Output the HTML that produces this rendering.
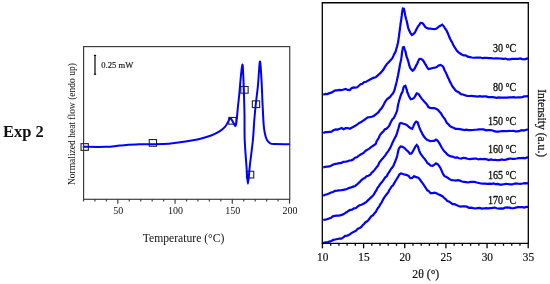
<!DOCTYPE html>
<html><head><meta charset="utf-8"><style>
html,body{margin:0;padding:0;background:#fff;}
body{width:550px;height:284px;position:relative;overflow:hidden;font-family:"Liberation Serif",serif;}
</style></head><body>
<svg width="550" height="284" viewBox="0 0 550 284" style="position:absolute;left:0;top:0">
<rect x="81.05" y="143.65" width="7.3" height="6.7" fill="none" stroke="#222" stroke-width="1.1"/>
<rect x="149.25" y="139.55" width="7.3" height="6.7" fill="none" stroke="#222" stroke-width="1.1"/>
<rect x="228.75" y="117.45" width="7.3" height="6.7" fill="none" stroke="#222" stroke-width="1.1"/>
<rect x="240.85" y="86.50" width="7.3" height="6.7" fill="none" stroke="#222" stroke-width="1.1"/>
<rect x="246.45" y="171.25" width="7.3" height="6.7" fill="none" stroke="#222" stroke-width="1.1"/>
<rect x="252.35" y="100.85" width="7.3" height="6.7" fill="none" stroke="#222" stroke-width="1.1"/>
<path d="M83.50,146.80 C87.25,146.80 99.92,147.00 106.00,146.80 C112.08,146.60 114.50,146.02 120.00,145.60 C125.50,145.18 131.83,144.55 139.00,144.30 C146.17,144.05 156.17,144.45 163.00,144.10 C169.83,143.75 175.50,142.75 180.00,142.20 C184.50,141.65 186.57,141.38 190.00,140.80 C193.43,140.22 197.08,139.58 200.60,138.70 C204.12,137.82 207.88,136.77 211.10,135.50 C214.32,134.23 217.55,132.57 219.90,131.10 C222.25,129.63 223.72,128.47 225.20,126.70 C226.68,124.93 227.92,121.92 228.80,120.50 C229.68,119.08 229.75,117.87 230.50,118.20 C231.25,118.53 232.50,121.20 233.30,122.50 C234.10,123.80 234.77,126.08 235.30,126.00 C235.83,125.92 236.08,125.00 236.50,122.00 C236.92,119.00 237.30,113.00 237.80,108.00 C238.30,103.00 238.98,97.33 239.50,92.00 C240.02,86.67 240.42,80.57 240.90,76.00 C241.38,71.43 242.02,64.93 242.40,64.60 C242.78,64.27 242.95,69.43 243.20,74.00 C243.45,78.57 243.68,85.17 243.90,92.00 C244.12,98.83 244.37,107.00 244.50,115.00 C244.63,123.00 244.38,131.67 244.70,140.00 C245.02,148.33 245.87,157.70 246.40,165.00 C246.93,172.30 247.32,183.80 247.90,183.80 C248.48,183.80 249.07,172.30 249.90,165.00 C250.73,157.70 252.17,147.50 252.90,140.00 C253.63,132.50 253.83,125.83 254.30,120.00 C254.77,114.17 255.08,110.83 255.70,105.00 C256.32,99.17 257.30,92.25 258.00,85.00 C258.70,77.75 259.32,62.33 259.90,61.50 C260.48,60.67 261.05,72.75 261.50,80.00 C261.95,87.25 262.23,97.50 262.60,105.00 C262.97,112.50 263.33,120.33 263.70,125.00 C264.07,129.67 264.30,130.58 264.80,133.00 C265.30,135.42 265.80,137.78 266.70,139.50 C267.60,141.22 268.82,142.53 270.20,143.30 C271.58,144.07 271.83,143.95 275.00,144.10 C278.17,144.25 286.83,144.18 289.20,144.20" fill="none" stroke="#0000ff" stroke-width="2.0" stroke-linejoin="round" stroke-linecap="round"/>
<path d="M323.20,94.70 L325.36,93.93 L327.39,94.08 L329.40,93.14 L331.39,92.61 L333.25,91.51 L335.29,90.26 L337.34,90.35 L339.52,89.92 L341.58,90.20 L343.62,89.45 L345.70,89.02 L347.83,89.92 L349.78,90.12 L351.56,88.27 L353.41,87.41 L355.44,87.71 L357.19,87.23 L358.90,85.73 L360.60,84.24 L362.42,83.69 L364.27,81.98 L366.20,81.79 L368.11,80.57 L370.03,79.48 L371.96,78.46 L373.86,77.67 L375.69,77.30 L377.50,75.62 L378.90,74.47 L380.31,73.17 L381.80,71.43 L383.20,69.85 L384.52,67.58 L385.79,65.58 L386.97,63.91 L388.16,62.82 L389.59,61.18 L391.19,59.51 L392.37,58.12 L393.29,56.11 L394.16,54.05 L395.10,52.65 L395.92,50.75 L396.50,48.31 L397.03,46.47 L397.51,44.48 L397.98,42.66 L398.36,40.58 L398.69,37.91 L398.97,36.48 L399.25,33.63 L399.53,31.64 L399.83,29.85 L400.11,27.19 L400.40,25.23 L400.68,22.77 L401.00,21.12 L401.28,19.36 L401.54,17.10 L401.82,15.14 L402.11,12.41 L402.41,10.68 L402.85,8.53 L403.87,8.72 L404.37,10.62 L404.82,13.27 L405.22,15.52 L405.67,17.22 L406.17,19.31 L406.68,20.75 L407.18,23.37 L407.69,25.50 L408.25,27.98 L408.91,29.98 L409.62,31.34 L410.52,33.25 L411.95,34.96 L413.88,33.58 L415.10,32.15 L416.08,30.08 L417.15,28.00 L418.21,26.04 L419.23,25.00 L420.53,22.81 L422.33,23.00 L423.80,24.66 L425.04,26.82 L426.34,27.76 L428.33,28.60 L430.43,28.55 L432.52,28.99 L434.61,29.11 L436.59,28.60 L438.51,26.92 L440.35,25.81 L442.14,24.61 L443.88,26.32 L444.97,28.42 L445.90,29.40 L446.87,31.18 L447.71,33.06 L448.58,35.05 L449.46,37.28 L450.32,39.30 L451.23,40.90 L452.13,42.37 L453.16,44.69 L454.27,46.58 L455.47,48.51 L456.75,50.63 L458.28,52.12 L459.91,53.29 L461.77,54.52 L463.78,55.47 L465.69,55.40 L467.70,56.61 L469.84,57.09 L471.88,57.53 L474.01,57.76 L476.16,57.56 L478.35,57.68 L480.51,57.53 L482.72,58.19 L484.74,57.85 L486.83,57.85 L489.00,58.09 L491.12,58.20 L493.33,58.51 L495.35,58.34 L497.40,58.30 L499.46,58.50 L501.52,58.54 L503.55,58.86 L505.59,58.59 L507.69,59.44 L509.82,59.39 L511.93,58.84 L513.98,58.76 L516.17,58.79 L518.18,58.78 L520.22,58.45 L522.38,59.05 L524.62,59.27 L526.69,58.64 L528.00,58.40" fill="none" stroke="#0000ff" stroke-width="2.2" stroke-linejoin="miter" stroke-miterlimit="3" stroke-linecap="butt"/>
<path d="M323.20,133.00 L325.37,132.13 L327.37,132.09 L329.57,131.83 L331.61,131.61 L333.52,130.23 L335.62,129.42 L337.65,129.64 L339.68,128.83 L341.78,128.04 L343.61,129.15 L345.70,128.14 L347.66,128.06 L349.70,128.79 L351.66,127.76 L353.58,126.73 L355.63,125.56 L357.42,124.45 L359.10,122.94 L360.77,122.35 L362.45,121.06 L364.16,120.06 L365.96,118.54 L367.84,117.36 L369.78,117.12 L371.78,116.79 L373.73,115.93 L375.45,114.70 L377.09,113.43 L378.69,111.92 L380.23,109.68 L381.56,108.24 L382.76,106.47 L383.94,104.17 L384.96,102.11 L385.95,100.54 L387.22,99.03 L388.71,97.98 L390.15,96.93 L391.52,94.93 L392.82,93.63 L393.84,91.88 L394.53,90.00 L395.18,87.43 L395.80,85.07 L396.34,83.03 L396.82,80.98 L397.23,78.91 L397.62,77.36 L398.03,75.62 L398.43,73.56 L398.84,70.96 L399.22,69.06 L399.63,67.09 L400.01,64.39 L400.40,62.76 L400.80,61.07 L401.19,58.97 L401.53,56.67 L401.84,54.14 L402.15,51.46 L402.47,49.91 L402.90,47.45 L403.98,47.12 L404.75,49.50 L405.31,51.05 L405.80,52.85 L406.35,55.66 L406.86,57.53 L407.50,59.01 L408.11,60.93 L408.69,62.90 L409.34,65.73 L410.11,67.82 L411.02,69.12 L412.58,70.72 L414.10,69.46 L415.27,67.37 L416.41,65.12 L417.32,63.42 L418.26,61.09 L419.33,58.99 L420.87,58.82 L422.50,59.91 L423.80,61.41 L424.94,63.59 L426.02,65.17 L427.12,67.42 L428.46,68.97 L430.56,68.59 L432.60,67.98 L434.82,67.67 L436.76,66.97 L438.24,65.71 L440.42,64.94 L442.30,65.83 L443.49,67.28 L444.43,69.98 L445.28,71.46 L446.21,73.36 L447.17,75.52 L448.07,77.83 L448.96,79.30 L449.90,81.68 L450.89,83.35 L451.85,85.21 L452.91,87.10 L454.14,88.43 L455.49,90.39 L457.17,91.50 L459.07,92.42 L460.85,94.13 L462.93,94.48 L465.02,95.20 L467.01,95.85 L469.20,95.98 L471.26,95.84 L473.40,96.08 L475.59,96.28 L477.63,96.69 L479.79,96.15 L482.04,96.56 L484.07,96.41 L486.13,96.45 L488.19,97.07 L490.24,97.02 L492.24,97.12 L494.40,97.46 L496.49,97.81 L498.59,97.48 L500.77,97.63 L502.84,97.57 L505.09,97.55 L507.19,97.70 L509.41,97.40 L511.61,97.32 L513.63,97.15 L515.70,97.52 L517.78,97.26 L519.82,97.29 L522.03,97.25 L524.06,96.40 L526.23,96.36 L528.00,96.20" fill="none" stroke="#0000ff" stroke-width="2.2" stroke-linejoin="miter" stroke-miterlimit="3" stroke-linecap="butt"/>
<path d="M323.20,167.30 L325.32,166.90 L327.35,166.53 L329.54,166.44 L331.50,165.55 L333.30,164.55 L335.32,163.84 L337.25,163.66 L339.15,163.15 L341.19,163.07 L343.22,161.87 L345.25,161.73 L347.33,161.43 L349.29,160.49 L351.20,160.32 L353.15,159.51 L354.96,157.73 L356.82,157.34 L358.63,155.84 L360.30,154.69 L362.00,153.84 L363.80,152.67 L365.71,150.72 L367.48,149.65 L369.25,148.60 L371.09,147.23 L372.90,145.92 L374.61,144.75 L375.94,143.71 L376.59,141.14 L377.70,139.60 L378.82,137.70 L379.77,135.44 L380.79,133.85 L382.03,132.64 L383.48,131.23 L384.96,129.28 L386.45,128.76 L387.94,127.31 L389.21,125.91 L390.28,123.23 L391.30,121.33 L392.42,119.29 L393.61,118.26 L394.79,116.07 L395.80,113.93 L396.50,112.17 L396.99,110.79 L397.42,108.77 L397.84,106.07 L398.28,103.76 L398.68,102.52 L399.19,100.19 L399.82,98.38 L400.67,95.70 L401.49,93.61 L402.29,92.29 L402.90,90.19 L403.51,87.52 L404.12,86.43 L405.40,85.80 L406.08,87.91 L406.65,89.38 L407.20,92.09 L407.99,93.53 L408.86,96.10 L409.80,97.63 L410.81,99.22 L412.69,98.82 L414.15,97.78 L415.60,95.42 L416.69,93.31 L418.38,93.94 L419.46,95.47 L420.50,96.97 L421.74,98.66 L423.02,100.14 L424.39,101.74 L425.86,103.36 L427.20,104.90 L428.36,107.06 L430.14,107.84 L432.23,108.15 L434.35,108.00 L436.38,108.94 L438.02,109.92 L439.52,111.65 L440.95,113.18 L442.26,115.62 L443.54,117.37 L444.65,118.68 L445.76,120.71 L446.89,123.06 L448.24,124.04 L449.76,126.00 L451.56,126.98 L453.42,127.83 L455.53,128.86 L457.69,128.90 L459.88,129.17 L462.13,129.55 L464.40,130.09 L466.49,129.61 L468.56,130.04 L470.77,130.05 L472.83,130.00 L474.95,129.76 L477.10,129.66 L479.27,129.35 L481.43,129.42 L483.63,129.47 L485.88,130.36 L487.92,130.21 L489.99,130.19 L492.08,130.23 L494.15,131.19 L496.21,131.62 L498.23,131.61 L500.44,131.23 L502.49,131.09 L504.68,131.08 L506.88,131.22 L509.05,130.87 L511.17,131.00 L513.21,130.75 L515.38,131.34 L517.38,131.43 L519.66,130.86 L521.95,130.17 L523.98,130.56 L526.14,129.71 L528.00,129.50" fill="none" stroke="#0000ff" stroke-width="2.2" stroke-linejoin="miter" stroke-miterlimit="3" stroke-linecap="butt"/>
<path d="M323.20,195.80 L325.12,194.75 L327.05,194.18 L329.02,193.54 L331.01,192.53 L333.02,192.06 L335.02,190.91 L337.11,190.68 L339.16,190.38 L341.21,190.24 L343.39,189.82 L345.49,189.43 L347.47,188.84 L349.42,187.86 L351.32,187.35 L353.27,186.62 L355.14,186.00 L356.81,184.74 L358.32,183.25 L359.85,181.85 L361.49,180.06 L363.20,178.61 L364.79,178.03 L366.56,176.27 L368.50,175.77 L370.30,174.59 L371.79,172.54 L373.06,171.59 L374.40,170.14 L375.71,168.37 L377.02,166.81 L378.26,165.13 L379.27,162.64 L380.47,161.09 L381.77,159.39 L383.07,158.05 L384.39,156.39 L385.60,154.79 L386.80,152.90 L388.08,151.42 L389.33,149.45 L390.41,147.62 L391.37,145.32 L392.37,142.96 L393.33,140.96 L394.19,139.37 L395.08,137.29 L395.94,136.20 L396.64,134.21 L397.26,132.28 L397.90,130.15 L398.50,128.25 L399.09,126.09 L399.80,123.57 L401.20,122.87 L403.30,123.72 L405.40,124.20 L407.28,125.30 L408.79,126.92 L410.36,127.97 L412.19,128.81 L413.24,126.62 L414.13,124.42 L415.13,122.75 L416.23,121.55 L417.63,122.32 L418.45,124.82 L419.22,127.19 L419.85,128.70 L420.64,130.50 L421.58,132.32 L422.63,134.36 L423.80,136.29 L425.18,137.94 L426.71,139.55 L428.30,140.28 L430.15,141.06 L432.27,140.97 L434.22,140.84 L436.00,139.58 L437.52,140.61 L438.50,141.97 L439.63,143.69 L440.74,145.68 L441.97,148.04 L443.24,149.93 L444.53,151.57 L445.84,152.76 L447.27,154.36 L448.91,155.58 L450.77,156.46 L452.70,156.61 L454.72,157.65 L456.99,157.32 L459.11,158.21 L461.28,158.58 L463.29,157.78 L465.49,158.14 L467.56,158.74 L469.71,159.17 L471.91,158.82 L474.12,158.60 L476.31,158.55 L478.44,159.42 L480.48,158.94 L482.50,159.26 L484.55,158.95 L486.76,159.36 L488.91,160.03 L491.04,159.38 L493.19,159.99 L495.41,159.85 L497.48,160.22 L499.67,160.10 L501.84,159.50 L504.00,159.97 L506.10,159.58 L508.33,158.85 L510.35,158.51 L512.41,158.84 L514.47,158.78 L516.51,158.48 L518.78,158.08 L520.94,158.06 L522.94,157.91 L524.96,158.33 L527.00,157.41 L528.00,157.80" fill="none" stroke="#0000ff" stroke-width="2.2" stroke-linejoin="miter" stroke-miterlimit="3" stroke-linecap="butt"/>
<path d="M323.20,220.00 L325.20,219.59 L327.04,219.30 L329.06,218.48 L331.02,217.82 L332.83,216.32 L334.81,215.79 L336.70,215.61 L338.72,215.57 L340.96,215.21 L342.95,214.39 L344.73,213.40 L346.50,212.28 L348.33,210.96 L350.17,209.92 L351.99,209.77 L353.97,208.40 L355.98,207.97 L357.79,206.39 L359.57,205.30 L361.54,204.79 L363.50,203.85 L365.12,202.75 L366.51,201.80 L367.90,200.35 L369.52,198.90 L371.08,197.39 L372.55,196.08 L373.90,194.34 L375.13,192.11 L376.33,190.34 L377.52,187.79 L378.63,186.63 L379.80,184.63 L381.10,183.07 L382.48,181.40 L383.87,179.44 L385.27,177.39 L386.59,176.43 L387.84,173.93 L388.94,172.40 L390.03,170.58 L391.13,168.79 L392.23,167.49 L393.28,166.12 L394.22,163.67 L395.06,162.06 L395.90,159.66 L396.57,157.92 L397.18,155.82 L397.72,153.38 L398.22,151.09 L398.68,149.16 L399.31,147.92 L400.63,146.34 L402.50,146.72 L404.60,148.06 L406.07,149.72 L407.46,150.88 L408.75,152.15 L409.86,153.82 L411.49,153.44 L412.55,151.87 L413.57,149.93 L414.53,148.18 L415.54,146.32 L416.69,145.00 L417.96,146.45 L418.60,148.64 L419.13,150.30 L419.83,152.29 L420.88,154.17 L421.99,155.72 L423.25,157.40 L424.57,158.76 L425.90,160.51 L427.35,163.05 L428.84,163.98 L430.44,165.50 L432.56,165.80 L434.15,164.84 L436.00,163.22 L437.84,164.24 L439.09,165.85 L440.26,167.76 L441.31,169.85 L442.30,172.41 L443.34,174.38 L444.56,176.21 L445.97,176.76 L447.60,177.68 L449.53,179.15 L451.55,180.15 L453.64,180.23 L455.75,180.57 L457.79,180.18 L459.97,180.66 L461.99,181.53 L464.09,181.84 L466.13,182.12 L468.19,182.48 L470.34,181.95 L472.57,181.79 L474.61,181.91 L476.69,182.48 L478.79,182.95 L480.91,183.49 L483.04,183.53 L485.06,183.55 L487.25,183.81 L489.49,183.66 L491.50,183.82 L493.54,183.40 L495.59,184.18 L497.64,183.89 L499.70,184.63 L501.75,184.60 L503.79,184.24 L505.80,183.95 L507.88,183.98 L510.10,184.36 L512.12,184.47 L514.18,183.79 L516.23,183.44 L518.25,183.75 L520.48,183.79 L522.56,183.48 L524.67,183.09 L526.81,183.29 L528.00,183.20" fill="none" stroke="#0000ff" stroke-width="2.2" stroke-linejoin="miter" stroke-miterlimit="3" stroke-linecap="butt"/>
<path d="M323.20,243.10 L325.19,242.45 L327.21,242.47 L329.28,241.64 L331.37,241.07 L333.38,239.91 L335.41,239.45 L337.46,238.96 L339.40,238.65 L341.41,238.61 L343.34,237.40 L345.20,235.84 L347.11,235.63 L348.91,235.00 L350.75,233.69 L352.62,232.35 L354.42,231.52 L356.10,230.70 L357.79,228.77 L359.80,227.93 L361.30,226.88 L362.61,225.33 L364.00,223.95 L365.53,222.18 L367.20,221.34 L368.70,219.77 L370.04,217.93 L371.46,216.04 L372.99,215.32 L374.47,213.31 L375.74,212.08 L376.88,209.79 L378.00,207.83 L379.10,206.66 L380.22,204.44 L381.22,203.17 L382.33,200.90 L383.52,198.62 L384.70,196.80 L385.92,195.20 L387.08,193.79 L388.21,192.47 L389.32,189.97 L390.44,188.33 L391.64,186.44 L392.97,185.48 L394.24,183.15 L395.53,181.03 L396.59,179.23 L397.60,177.69 L398.46,176.33 L399.28,174.58 L400.96,173.36 L402.98,173.94 L405.02,174.67 L406.87,175.07 L408.64,175.89 L410.22,178.03 L412.17,177.94 L414.06,176.18 L416.13,177.19 L418.27,177.65 L419.74,179.21 L420.95,180.99 L422.18,182.62 L423.41,184.26 L424.59,186.25 L425.84,188.02 L427.26,190.30 L428.80,191.10 L430.54,193.13 L432.66,193.05 L434.71,192.72 L436.89,193.56 L438.87,194.62 L440.75,195.39 L442.46,196.13 L444.00,197.76 L445.61,199.10 L447.30,200.94 L448.96,201.51 L450.65,202.65 L452.47,204.20 L454.50,204.20 L456.42,204.98 L458.52,206.05 L460.58,206.65 L462.57,206.29 L464.73,206.42 L466.77,206.66 L468.97,207.83 L471.16,207.56 L473.32,208.11 L475.36,208.50 L477.49,208.06 L479.70,207.89 L481.73,208.61 L483.82,208.47 L485.98,208.05 L488.19,208.42 L490.47,208.08 L492.51,207.92 L494.66,207.56 L496.78,208.25 L498.82,208.59 L500.97,208.34 L503.21,208.56 L505.22,207.56 L507.27,207.44 L509.33,207.62 L511.38,208.14 L513.41,208.24 L515.68,207.58 L517.87,207.16 L519.96,207.18 L522.14,207.18 L524.33,207.60 L526.38,206.85 L528.00,207.00" fill="none" stroke="#0000ff" stroke-width="2.2" stroke-linejoin="miter" stroke-miterlimit="3" stroke-linecap="butt"/>
<g fill="none" stroke="#383838" stroke-width="1.15">
<rect x="83.6" y="46.6" width="206.15" height="152.70000000000002"/>
<line x1="83.50" y1="199.3" x2="83.50" y2="201.50"/>
<line x1="94.94" y1="199.3" x2="94.94" y2="201.50"/>
<line x1="106.39" y1="199.3" x2="106.39" y2="201.50"/>
<line x1="117.83" y1="199.3" x2="117.83" y2="203.70"/>
<line x1="129.28" y1="199.3" x2="129.28" y2="201.50"/>
<line x1="140.72" y1="199.3" x2="140.72" y2="201.50"/>
<line x1="152.17" y1="199.3" x2="152.17" y2="201.50"/>
<line x1="163.61" y1="199.3" x2="163.61" y2="201.50"/>
<line x1="175.06" y1="199.3" x2="175.06" y2="203.70"/>
<line x1="186.50" y1="199.3" x2="186.50" y2="201.50"/>
<line x1="197.94" y1="199.3" x2="197.94" y2="201.50"/>
<line x1="209.39" y1="199.3" x2="209.39" y2="201.50"/>
<line x1="220.83" y1="199.3" x2="220.83" y2="201.50"/>
<line x1="232.28" y1="199.3" x2="232.28" y2="203.70"/>
<line x1="243.72" y1="199.3" x2="243.72" y2="201.50"/>
<line x1="255.17" y1="199.3" x2="255.17" y2="201.50"/>
<line x1="266.61" y1="199.3" x2="266.61" y2="201.50"/>
<line x1="278.06" y1="199.3" x2="278.06" y2="201.50"/>
<line x1="289.50" y1="199.3" x2="289.50" y2="203.70"/>
<line x1="95.0" y1="55.3" x2="95.0" y2="74.3" stroke-width="1.3" stroke="#1a1a1a"/>
<line x1="93.9" y1="55.4" x2="96.1" y2="55.4" stroke="#000" stroke-width="1.2"/>
<line x1="93.9" y1="74.2" x2="96.1" y2="74.2" stroke="#000" stroke-width="1.2"/>
</g>
<g fill="none" stroke="#000" stroke-width="1.3">
<path d="M322.3,243.4 V2.75 H528.3 V243.4" stroke-linejoin="miter"/>
<line x1="321.65000000000003" y1="243.4" x2="528.9499999999999" y2="243.4" stroke-width="1.1"/>
<line x1="322.45" y1="243.4" x2="322.45" y2="248.30"/>
<line x1="330.68" y1="243.4" x2="330.68" y2="245.80"/>
<line x1="338.91" y1="243.4" x2="338.91" y2="245.80"/>
<line x1="347.14" y1="243.4" x2="347.14" y2="245.80"/>
<line x1="355.37" y1="243.4" x2="355.37" y2="245.80"/>
<line x1="363.60" y1="243.4" x2="363.60" y2="248.30"/>
<line x1="371.83" y1="243.4" x2="371.83" y2="245.80"/>
<line x1="380.06" y1="243.4" x2="380.06" y2="245.80"/>
<line x1="388.29" y1="243.4" x2="388.29" y2="245.80"/>
<line x1="396.52" y1="243.4" x2="396.52" y2="245.80"/>
<line x1="404.75" y1="243.4" x2="404.75" y2="248.30"/>
<line x1="412.98" y1="243.4" x2="412.98" y2="245.80"/>
<line x1="421.21" y1="243.4" x2="421.21" y2="245.80"/>
<line x1="429.44" y1="243.4" x2="429.44" y2="245.80"/>
<line x1="437.67" y1="243.4" x2="437.67" y2="245.80"/>
<line x1="445.90" y1="243.4" x2="445.90" y2="248.30"/>
<line x1="454.13" y1="243.4" x2="454.13" y2="245.80"/>
<line x1="462.36" y1="243.4" x2="462.36" y2="245.80"/>
<line x1="470.59" y1="243.4" x2="470.59" y2="245.80"/>
<line x1="478.82" y1="243.4" x2="478.82" y2="245.80"/>
<line x1="487.05" y1="243.4" x2="487.05" y2="248.30"/>
<line x1="495.28" y1="243.4" x2="495.28" y2="245.80"/>
<line x1="503.51" y1="243.4" x2="503.51" y2="245.80"/>
<line x1="511.74" y1="243.4" x2="511.74" y2="245.80"/>
<line x1="519.97" y1="243.4" x2="519.97" y2="245.80"/>
<line x1="528.20" y1="243.4" x2="528.20" y2="248.30"/>
</g>
</svg>
<svg width="550" height="284" viewBox="0 0 550 284" style="position:absolute;left:0;top:0;will-change:transform" font-family="Liberation Serif, serif" fill="#111"><text x="3.00" y="137.00" font-size="16.5" text-anchor="start" font-weight="bold">Exp 2</text>
<text x="101.30" y="68.00" font-size="8.6" text-anchor="start" stroke="#111" stroke-width="0.15">0.25 mW</text>
<text x="75.30" y="124.10" font-size="9.5" text-anchor="middle" transform="rotate(-90 75.30 124.10)">Normalized heat flow (endo up)</text>
<text x="142.80" y="242.00" font-size="12.1" text-anchor="start" textLength="81.6" lengthAdjust="spacingAndGlyphs">Temperature (°C)</text>
<text x="118.23" y="214.00" font-size="10" text-anchor="middle">50</text>
<text x="175.46" y="214.00" font-size="10" text-anchor="middle">100</text>
<text x="232.68" y="214.00" font-size="10" text-anchor="middle">150</text>
<text x="289.90" y="214.00" font-size="10" text-anchor="middle">200</text>
<text x="322.75" y="261.00" font-size="12.2" text-anchor="middle" textLength="11.3" lengthAdjust="spacingAndGlyphs" stroke="#111" stroke-width="0.2">10</text>
<text x="363.90" y="261.00" font-size="12.2" text-anchor="middle" textLength="11.3" lengthAdjust="spacingAndGlyphs" stroke="#111" stroke-width="0.2">15</text>
<text x="405.05" y="261.00" font-size="12.2" text-anchor="middle" textLength="11.3" lengthAdjust="spacingAndGlyphs" stroke="#111" stroke-width="0.2">20</text>
<text x="446.20" y="261.00" font-size="12.2" text-anchor="middle" textLength="11.3" lengthAdjust="spacingAndGlyphs" stroke="#111" stroke-width="0.2">25</text>
<text x="487.35" y="261.00" font-size="12.2" text-anchor="middle" textLength="11.3" lengthAdjust="spacingAndGlyphs" stroke="#111" stroke-width="0.2">30</text>
<text x="528.50" y="261.00" font-size="12.2" text-anchor="middle" textLength="11.3" lengthAdjust="spacingAndGlyphs" stroke="#111" stroke-width="0.2">35</text>
<text x="412.30" y="277.80" font-size="12.2" text-anchor="start" textLength="27.0" lengthAdjust="spacingAndGlyphs" stroke="#111" stroke-width="0.2">2θ (°)</text>
<text x="538.30" y="123.20" font-size="11.6" text-anchor="middle" transform="rotate(90 538.30 123.20)" stroke="#111" stroke-width="0.25">Intensity (a.u.)</text>
<text x="492.90" y="52.00" font-size="12.2" text-anchor="start" textLength="23.4" lengthAdjust="spacingAndGlyphs" stroke="#111" stroke-width="0.35">30 <tspan dy="0.3">°</tspan><tspan dy="-0.3">C</tspan></text>
<text x="492.90" y="91.00" font-size="12.2" text-anchor="start" textLength="23.4" lengthAdjust="spacingAndGlyphs" stroke="#111" stroke-width="0.35">80 <tspan dy="0.3">°</tspan><tspan dy="-0.3">C</tspan></text>
<text x="488.00" y="125.00" font-size="12.2" text-anchor="start" textLength="28.3" lengthAdjust="spacingAndGlyphs" stroke="#111" stroke-width="0.35">150 <tspan dy="0.3">°</tspan><tspan dy="-0.3">C</tspan></text>
<text x="488.00" y="153.00" font-size="12.2" text-anchor="start" textLength="28.3" lengthAdjust="spacingAndGlyphs" stroke="#111" stroke-width="0.35">160 <tspan dy="0.3">°</tspan><tspan dy="-0.3">C</tspan></text>
<text x="488.00" y="178.50" font-size="12.2" text-anchor="start" textLength="28.3" lengthAdjust="spacingAndGlyphs" stroke="#111" stroke-width="0.35">165 <tspan dy="0.3">°</tspan><tspan dy="-0.3">C</tspan></text>
<text x="488.00" y="203.50" font-size="12.2" text-anchor="start" textLength="28.3" lengthAdjust="spacingAndGlyphs" stroke="#111" stroke-width="0.35">170 <tspan dy="0.3">°</tspan><tspan dy="-0.3">C</tspan></text></svg>
</body></html>
